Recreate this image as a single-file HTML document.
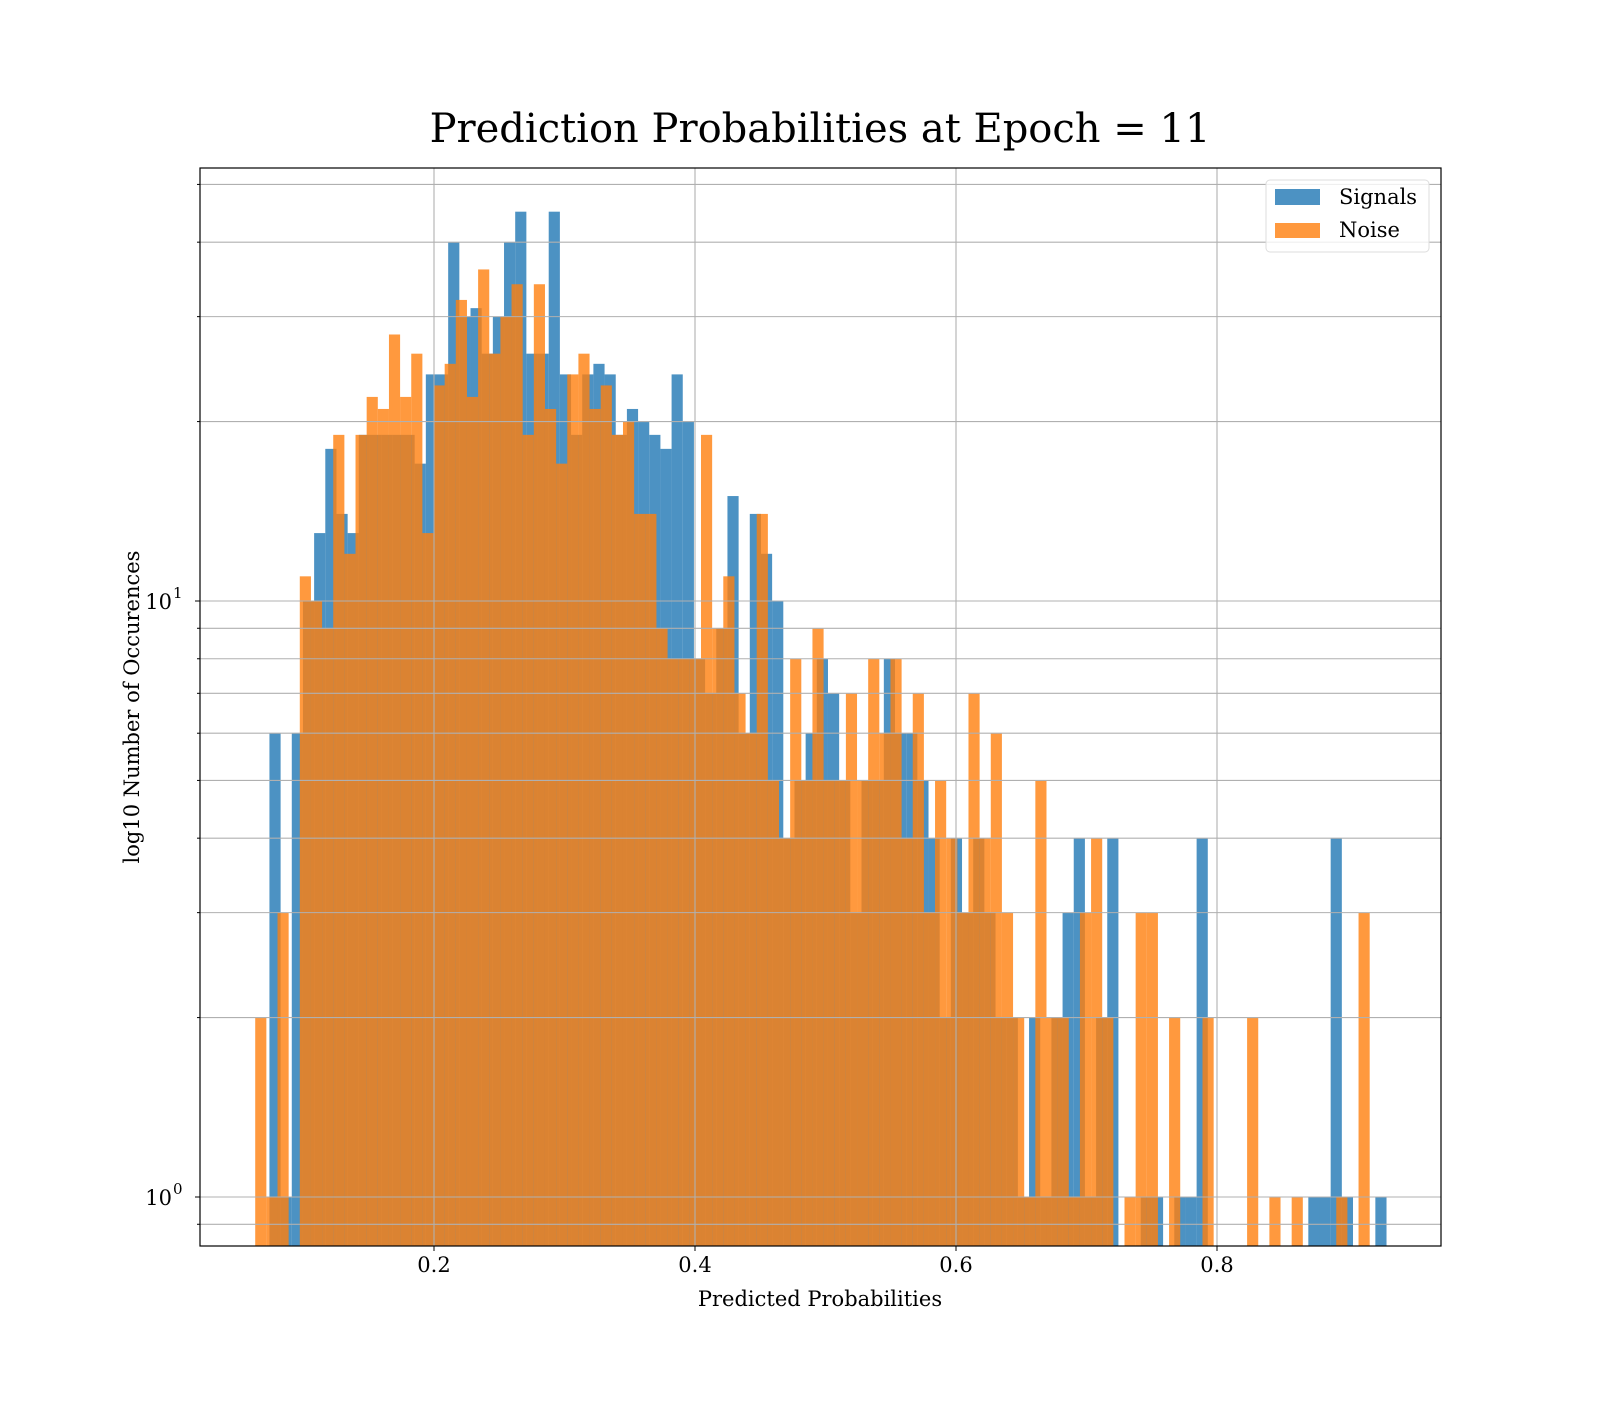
<!DOCTYPE html>
<html><head><meta charset="utf-8"><style>
body{margin:0;background:#fff;}
svg text{font-family:"DejaVu Serif","Liberation Serif",serif;fill:#000;}
</style></head><body>
<svg id="chart" width="1600" height="1400" xmlns="http://www.w3.org/2000/svg">
<rect width="1600" height="1400" fill="#fff"/>
<text x="820" y="142" font-size="40" text-anchor="middle">Prediction Probabilities at Epoch = 11</text>
<g id="bars-signal"></g>
<g id="bars-noise"></g>
<g id="grid"></g>
<g id="axes"></g>
<text x="820" y="1306" font-size="21" text-anchor="middle">Predicted Probabilities</text>
<text transform="translate(139,707) rotate(-90)" font-size="21" text-anchor="middle">log10 Number of Occurences</text>
<g>
<rect x="1266" y="180" width="163" height="72" rx="4" fill="#fff" fill-opacity="0.8" stroke="#ddd"/>
<rect x="1275" y="189" width="45" height="16" fill="#1f77b4" fill-opacity="0.8"/>
<text x="1339" y="204" font-size="21">Signals</text>
<rect x="1275" y="223" width="45" height="15" fill="#ff7f0e" fill-opacity="0.8"/>
<text x="1339" y="237" font-size="21">Noise</text>
</g>
</svg>
<script>
const signalCounts=[6,1,6,10,13,18,14,13,19,19,19,19,19,17,24,24,40,30,31,26,30,40,45,26,26,45,24,19,24,25,24,19,21,20,19,18,24,20,8,7,9,15,6,14,12,10,4,5,6,8,7,5,3,5,5,8,6,6,5,4,2,4,3,4,3,2,2,1,2,1,2,3,4,1,2,4,0,0,1,1,0,1,1,4,0,0,0,0,0,0,0,0,0,1,1,4,1,0,0,1];
const noiseCounts=[2,1,3,0,11,10,9,19,12,19,22,21,28,22,26,13,23,25,32,22,36,26,30,34,19,34,21,17,24,26,21,23,19,20,14,14,9,8,8,8,19,9,11,7,6,14,5,4,8,5,9,5,5,7,5,8,6,8,4,7,3,5,4,3,7,4,6,3,2,1,5,2,2,1,3,4,2,0,1,3,3,0,2,0,0,2,0,0,0,2,0,1,0,1,0,0,0,1,0,3];
const signalBinStart=0.0739, signalBinWidth=0.00856;
const noiseBinStart=0.0630, noiseBinWidth=0.00854;
const xTicks=[0.2,0.4,0.6,0.8];
const xTickLabels=["0.2","0.4","0.6","0.8"];
const L=200,R=1441,T=168,B=1246;
const X0=173,XS=1305;
const Y0=1197,DEC=596;
function xs(v){return X0+v*XS;}
function ys(v){return Y0-Math.log10(v)*DEC;}
const NS="http://www.w3.org/2000/svg";
function mk(tag,attrs,parent){const e=document.createElementNS(NS,tag);for(const k in attrs)e.setAttribute(k,attrs[k]);parent.appendChild(e);return e;}
function drawBars(counts,start,w,color,gid,name){
  const g=document.getElementById(gid);
  counts.forEach((c,i)=>{
    if(c<=0)return;
    const x1=xs(start+i*w),x2=xs(start+(i+1)*w);
    const y=Math.max(T,ys(c));
    const r=mk('rect',{x:x1,y:y,width:x2-x1,height:B-y,fill:color,'fill-opacity':0.8},g);
    
    
  });
}
drawBars(signalCounts,signalBinStart,signalBinWidth,'#1f77b4','bars-signal','signal-bar');
drawBars(noiseCounts,noiseBinStart,noiseBinWidth,'#ff7f0e','bars-noise','noise-bar');
const grid=document.getElementById('grid'),axes=document.getElementById('axes');
xTicks.forEach((t,i)=>{
  const x=xs(t);
  const gl=mk('line',{x1:x,x2:x,y1:T,y2:B,stroke:'#b0b0b0','stroke-width':1.1},grid);
  
  
  mk('line',{x1:x,x2:x,y1:B,y2:B+5,stroke:'#000','stroke-width':1},axes);
  const tx=mk('text',{x:x,y:1272,'font-size':21,'text-anchor':'middle'},axes);
  tx.textContent=xTickLabels[i];
  
  
});
const yMinor=[0.9,2,3,4,5,6,7,8,9,20,30,40,50];
const yMajor=[1,10];
yMinor.concat(yMajor).forEach(v=>{
  const y=ys(v); if(y<T||y>B)return;
  const gl=mk('line',{x1:L,x2:R,y1:y,y2:y,stroke:'#b0b0b0','stroke-width':1.1},grid);
  
  
  const major=yMajor.includes(v);
  mk('line',{x1:L-(major?5:3),x2:L,y1:y,y2:y,stroke:'#000','stroke-width':1},axes);
});
yMajor.forEach((v,i)=>{
  const y=ys(v);
  const tx=mk('text',{x:172,y:y+8,'font-size':21,'text-anchor':'end'},axes);
  tx.textContent='10';
  
  
  const ex=mk('text',{x:173,y:y-3,'font-size':15},axes);
  ex.textContent=String(Math.round(Math.log10(v)));
});
mk('rect',{x:L,y:T,width:R-L,height:B-T,fill:'none',stroke:'#000','stroke-width':1.2},axes);
</script>
</body></html>
